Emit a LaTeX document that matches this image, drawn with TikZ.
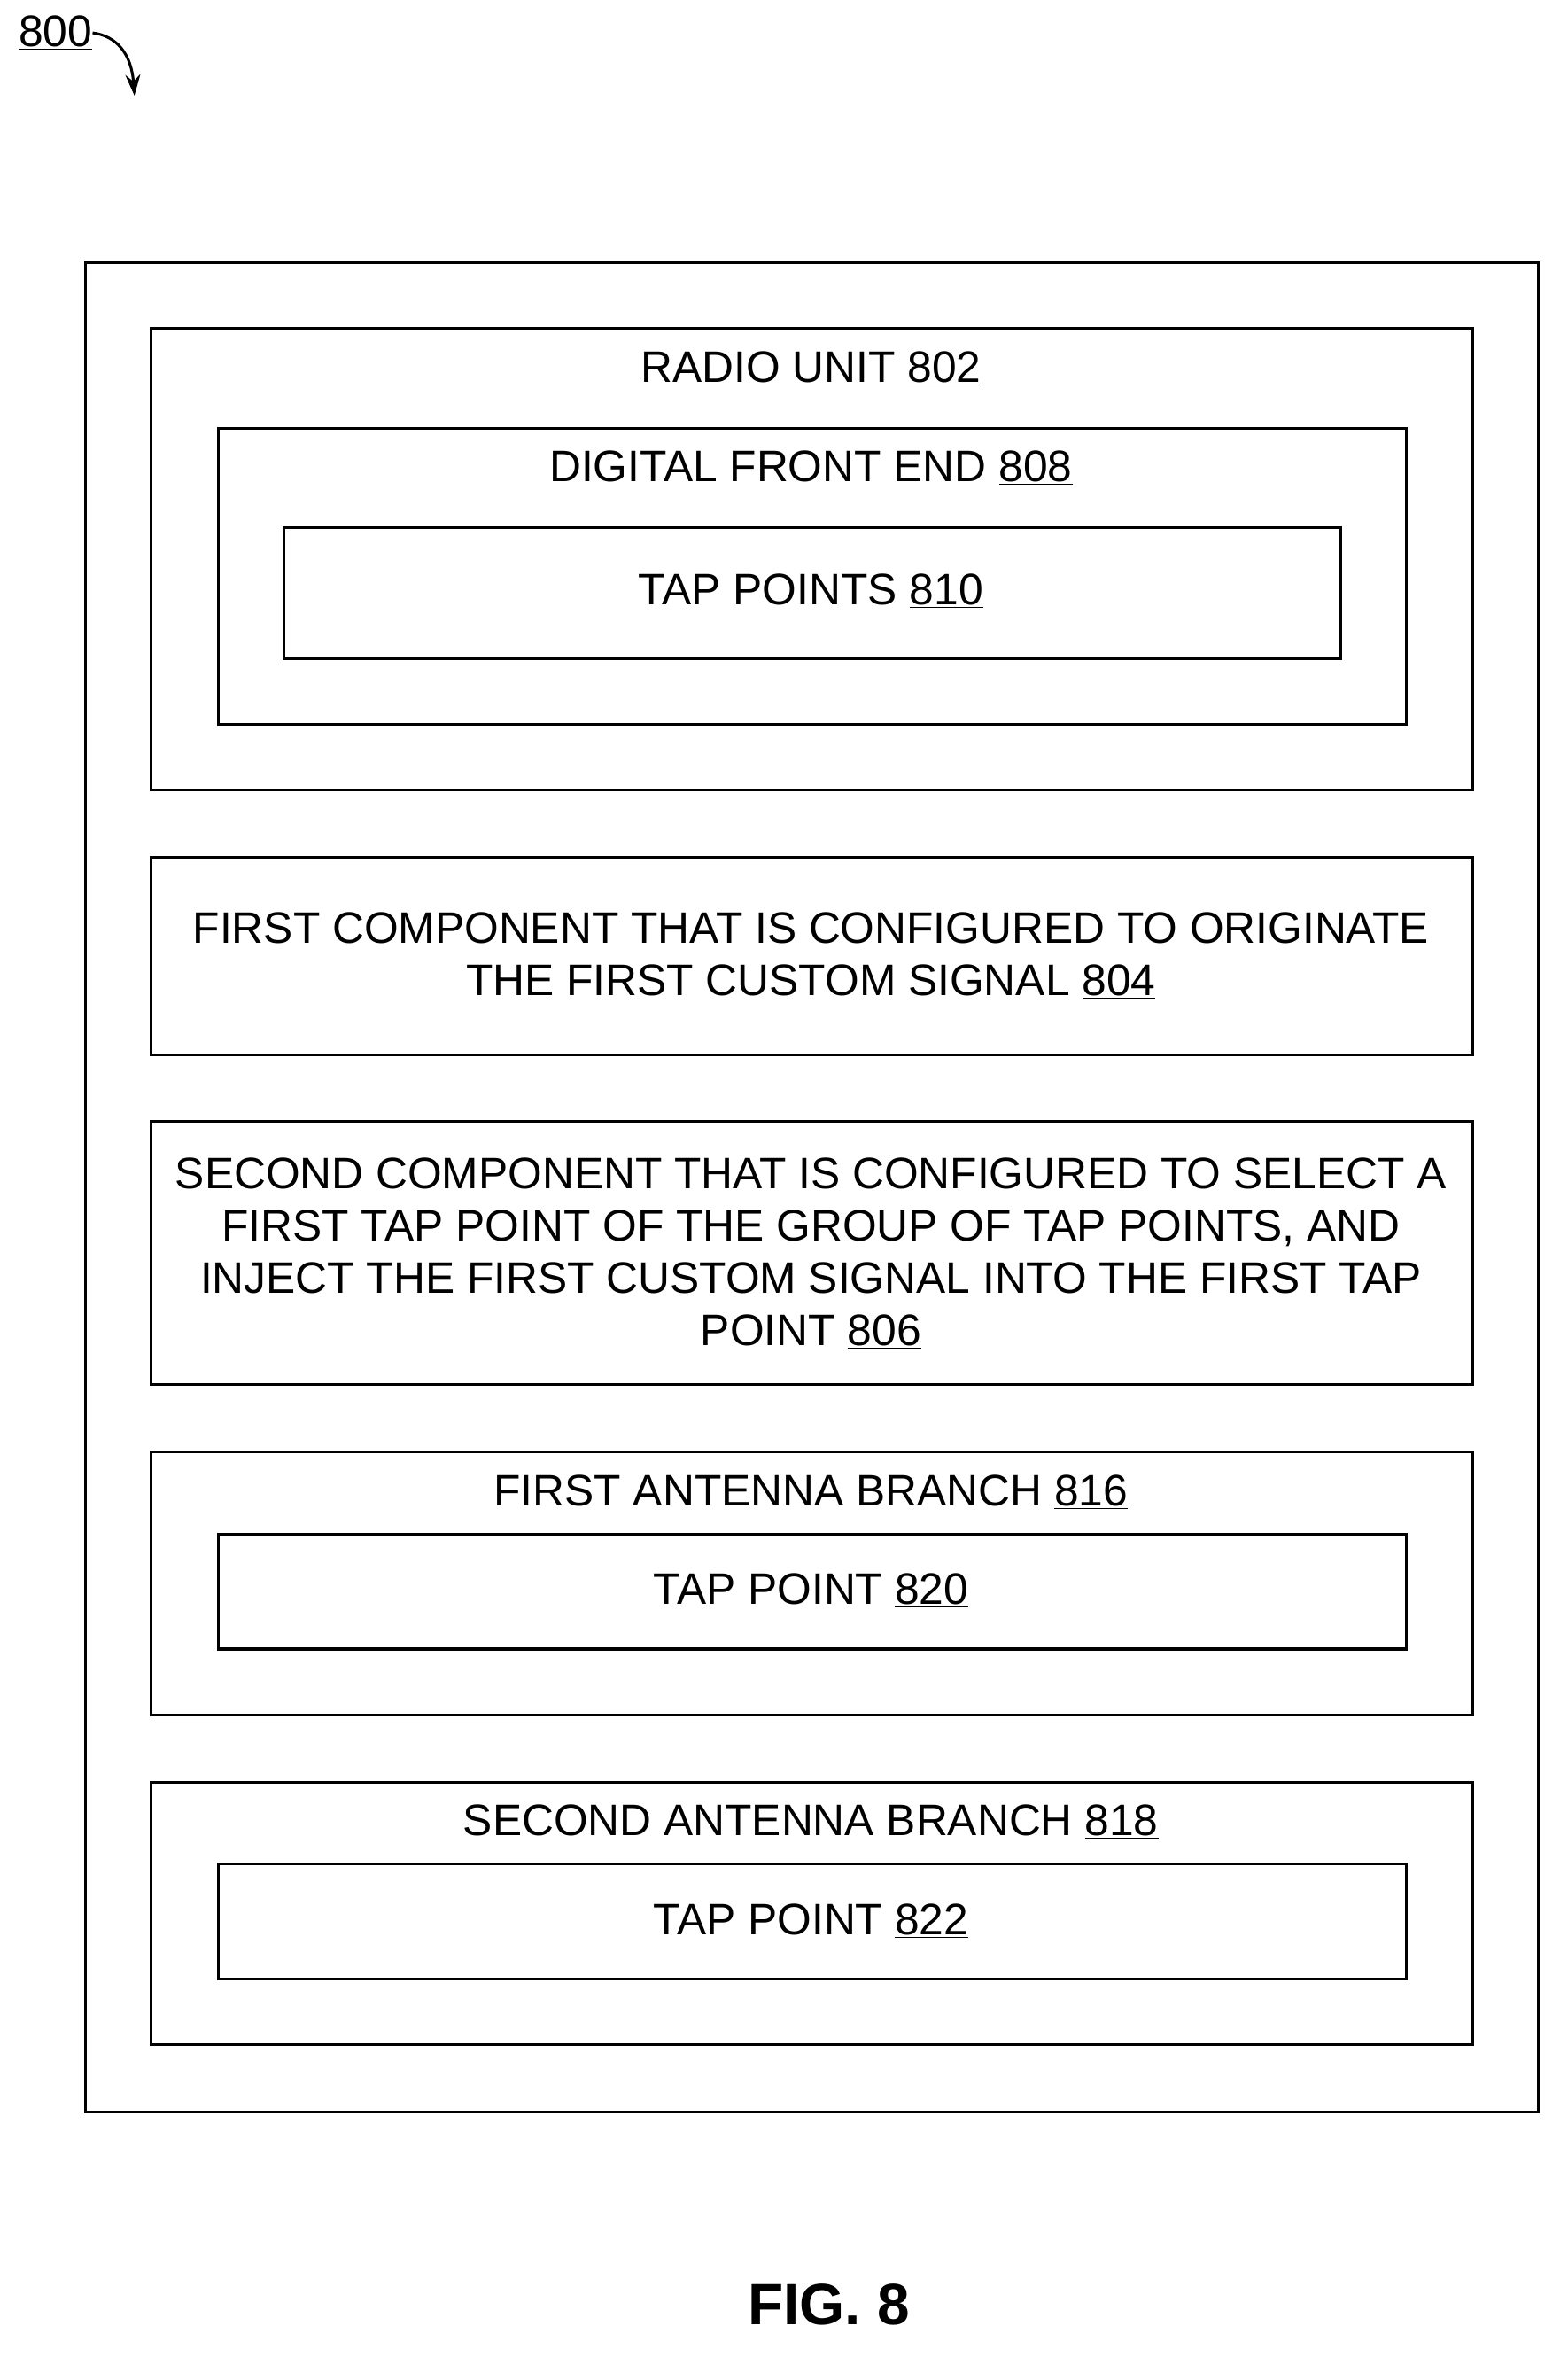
\documentclass[tikz,border=0pt]{standalone}
\usepackage{fontspec}
\setmainfont{Liberation Sans}
\usetikzlibrary{arrows.meta}
\newcommand{\refn}[1]{\underline{#1}}
\begin{document}
\begin{tikzpicture}[x=1pt,y=-1pt,
  box/.style={draw,line width=1.8pt},
  lbl/.style={font=\fontsize{29.5}{35}\selectfont,align=center,inner sep=0pt}]
\useasboundingbox (0,0) rectangle (1050,1578);
\draw[box] (57,176) rectangle (1030,1414);
\draw[box] (101,220) rectangle (986,529);
\node[lbl] (ru) at (543,247) {RADIO UNIT \refn{802}};
\draw[box] (146,287) rectangle (942,485);
\node[lbl] (dfe) at (543,313) {DIGITAL FRONT END \refn{808}};
\draw[box] (190,353) rectangle (898,441);
\node[lbl] (tp) at (543,396) {TAP POINTS \refn{810}};
\draw[box] (101,574) rectangle (986,706);
\node[lbl] (c1) at (543,640) {FIRST COMPONENT THAT IS CONFIGURED TO ORIGINATE\\THE FIRST CUSTOM SIGNAL \refn{804}};
\draw[box] (101,751) rectangle (986,927);
\node[lbl] (c2) at (543,839) {SECOND COMPONENT THAT IS CONFIGURED TO SELECT A\\FIRST TAP POINT OF THE GROUP OF TAP POINTS, AND\\INJECT THE FIRST CUSTOM SIGNAL INTO THE FIRST TAP\\POINT \refn{806}};
\draw[box] (101,972) rectangle (986,1148);
\node[lbl] (ab1) at (543,999) {FIRST ANTENNA BRANCH \refn{816}};
\draw[box] (146,1027) rectangle (942,1104);
\node[lbl] (tp1) at (543,1065) {TAP POINT \refn{820}};
\draw[box] (101,1193) rectangle (986,1369);
\node[lbl] (ab2) at (543,1220) {SECOND ANTENNA BRANCH \refn{818}};
\draw[box] (146,1248) rectangle (942,1325);
\node[lbl] (tp2) at (543,1286) {TAP POINT \refn{822}};
\node[lbl,font=\fontsize{39}{42}\selectfont\bfseries] (fig) at (555,1543) {FIG. 8};
\node[lbl,anchor=east] (n800) at (62,22) {\refn{800}};
\coordinate (tip) at (90,64);
\draw[line width=1.8pt,-{Stealth[length=14pt,width=10pt]}] (n800.east) .. controls (78,24) and (88,36) .. (tip);
\end{tikzpicture}
\end{document}
